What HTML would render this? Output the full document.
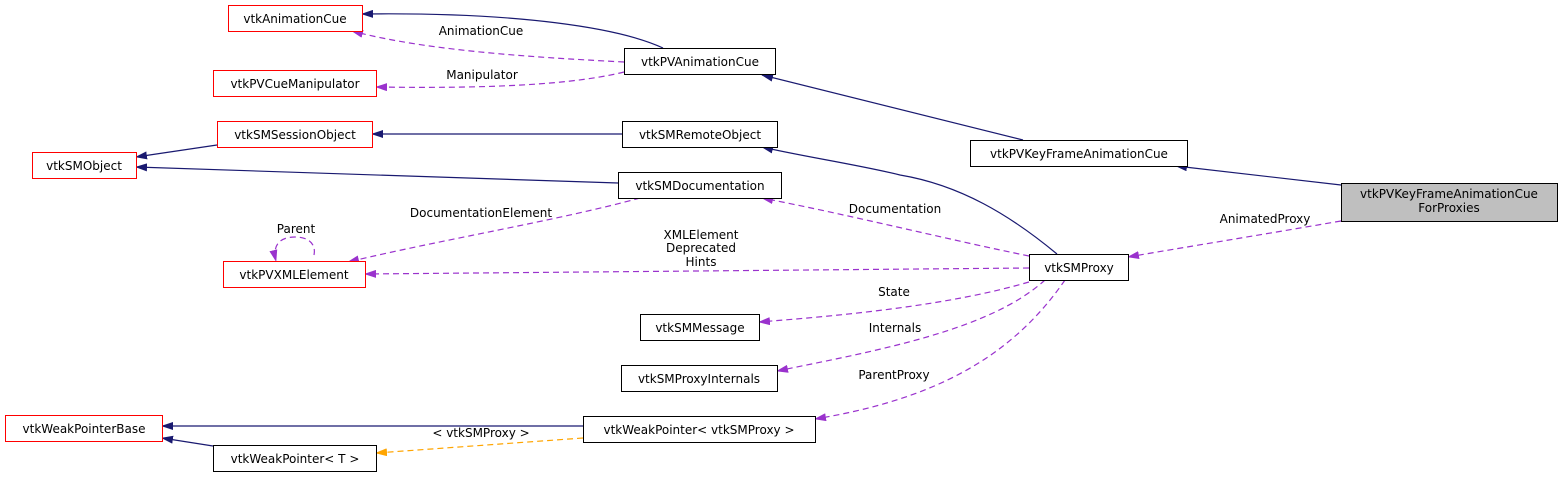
<!DOCTYPE html>
<html><head><meta charset="utf-8"><style>
html,body{margin:0;padding:0;background:#fff;}
svg{display:block;}
text{font-family:"DejaVu Sans","Liberation Sans",sans-serif;font-size:12px;fill:#000;}
.n{fill:#fff;stroke:#000;stroke-width:1;}
.r{fill:#fff;stroke:#ff0000;stroke-width:1;}
.e{fill:none;stroke:#191970;stroke-width:1.2;}
.p{fill:none;stroke:#9a32cd;stroke-width:1.2;stroke-dasharray:6,4;}
.o{fill:none;stroke:#ffa500;stroke-width:1.2;stroke-dasharray:6,4;}
</style></head><body>
<svg width="1563" height="477" viewBox="0 0 1563 477" xmlns="http://www.w3.org/2000/svg">
<defs>
<marker id="mn" markerWidth="12" markerHeight="8" refX="11" refY="4" orient="auto" markerUnits="userSpaceOnUse"><path d="M0,0 L12,4 L0,8 z" fill="#191970"/></marker>
<marker id="mp" markerWidth="12" markerHeight="8" refX="11" refY="4" orient="auto" markerUnits="userSpaceOnUse"><path d="M0,0 L12,4 L0,8 z" fill="#9a32cd"/></marker>
<marker id="mo" markerWidth="12" markerHeight="8" refX="11" refY="4" orient="auto" markerUnits="userSpaceOnUse"><path d="M0,0 L12,4 L0,8 z" fill="#ffa500"/></marker>
</defs>

<!-- edges -->
<path class="e" d="M663,48 C620,28 520,12 362,14" marker-end="url(#mn)"/>
<path class="p" d="M624,62 C550,58 430,52 352,31" marker-end="url(#mp)"/>
<text x="481" y="35" text-anchor="middle">AnimationCue</text>
<path class="p" d="M624,72 C560,88 450,88 376,87" marker-end="url(#mp)"/>
<text x="482" y="79" text-anchor="middle">Manipulator</text>
<path class="e" d="M622,134 L372,134" marker-end="url(#mn)"/>
<path class="e" d="M217,145 L136,157" marker-end="url(#mn)"/>
<path class="e" d="M618,183 L136,167" marker-end="url(#mn)"/>
<path class="e" d="M1023,140 L762,75" marker-end="url(#mn)"/>
<path class="e" d="M1341,185 L1176,166" marker-end="url(#mn)"/>
<path class="e" d="M1057,254 C1010,215 960,185 900,175 C860,165 800,156 762,147" marker-end="url(#mn)"/>
<path class="p" d="M1341,221 C1260,235 1180,248 1128,257" marker-end="url(#mp)"/>
<text x="1265" y="223" text-anchor="middle">AnimatedProxy</text>
<path class="p" d="M1029,256 C950,240 850,215 762,198" marker-end="url(#mp)"/>
<text x="895" y="213" text-anchor="middle">Documentation</text>
<path class="p" d="M1029,268 L365,274" marker-end="url(#mp)"/>
<text x="701" y="239" text-anchor="middle">XMLElement</text>
<text x="701" y="252" text-anchor="middle">Deprecated</text>
<text x="701" y="266" text-anchor="middle">Hints</text>
<path class="p" d="M640,198 C560,220 440,240 348,262" marker-end="url(#mp)"/>
<text x="481" y="217" text-anchor="middle">DocumentationElement</text>
<path class="p" d="M314,255 C316,245 310,237 295,237 C280,237 272,245 276,261" marker-end="url(#mp)"/>
<text x="296" y="233" text-anchor="middle">Parent</text>
<path class="p" d="M1029,282 C950,305 850,315 759,322" marker-end="url(#mp)"/>
<text x="894" y="296" text-anchor="middle">State</text>
<path class="p" d="M1045,280 C990,330 880,350 777,371" marker-end="url(#mp)"/>
<text x="895" y="332" text-anchor="middle">Internals</text>
<path class="p" d="M1065,280 C1010,360 930,400 815,419" marker-end="url(#mp)"/>
<text x="894" y="379" text-anchor="middle">ParentProxy</text>
<path class="e" d="M583,426 L162,426" marker-end="url(#mn)"/>
<path class="e" d="M213,446 L162,438" marker-end="url(#mn)"/>
<path class="o" d="M583,438 L376,453" marker-end="url(#mo)"/>
<text x="481" y="437" text-anchor="middle">&lt; vtkSMProxy &gt;</text>

<!-- nodes -->
<rect class="r" x="228.5" y="5.5" width="134" height="26"/><text x="295" y="23" text-anchor="middle">vtkAnimationCue</text>
<rect class="r" x="213.5" y="70.5" width="163" height="26"/><text x="295" y="88" text-anchor="middle">vtkPVCueManipulator</text>
<rect class="r" x="217.5" y="121.5" width="155" height="26"/><text x="295" y="139" text-anchor="middle">vtkSMSessionObject</text>
<rect class="r" x="32.5" y="152.5" width="104" height="26"/><text x="84" y="170" text-anchor="middle">vtkSMObject</text>
<rect class="r" x="223.5" y="261.5" width="142" height="26"/><text x="294" y="279" text-anchor="middle">vtkPVXMLElement</text>
<rect class="n" x="624.5" y="48.5" width="151" height="26"/><text x="700" y="66" text-anchor="middle">vtkPVAnimationCue</text>
<rect class="n" x="622.5" y="121.5" width="155" height="26"/><text x="700" y="139" text-anchor="middle">vtkSMRemoteObject</text>
<rect class="n" x="618.5" y="172.5" width="163" height="26"/><text x="700" y="190" text-anchor="middle">vtkSMDocumentation</text>
<rect class="n" x="970.5" y="140.5" width="217" height="26"/><text x="1079" y="158" text-anchor="middle">vtkPVKeyFrameAnimationCue</text>
<rect x="1341.5" y="183.5" width="216" height="38" fill="#bfbfbf" stroke="#000"/><text x="1449" y="198" text-anchor="middle">vtkPVKeyFrameAnimationCue</text><text x="1449" y="212" text-anchor="middle">ForProxies</text>
<rect class="n" x="1029.5" y="254.5" width="99" height="26"/><text x="1079" y="272" text-anchor="middle">vtkSMProxy</text>
<rect class="n" x="640.5" y="314.5" width="119" height="26"/><text x="700" y="332" text-anchor="middle">vtkSMMessage</text>
<rect class="n" x="621.5" y="365.5" width="156" height="26"/><text x="699" y="383" text-anchor="middle">vtkSMProxyInternals</text>
<rect class="r" x="5.5" y="415.5" width="157" height="26"/><text x="84" y="433" text-anchor="middle">vtkWeakPointerBase</text>
<rect class="n" x="583.5" y="416.5" width="232" height="26"/><text x="699" y="434" text-anchor="middle">vtkWeakPointer&lt; vtkSMProxy &gt;</text>
<rect class="n" x="213.5" y="445.5" width="163" height="26"/><text x="295" y="463" text-anchor="middle">vtkWeakPointer&lt; T &gt;</text>
</svg>
</body></html>
